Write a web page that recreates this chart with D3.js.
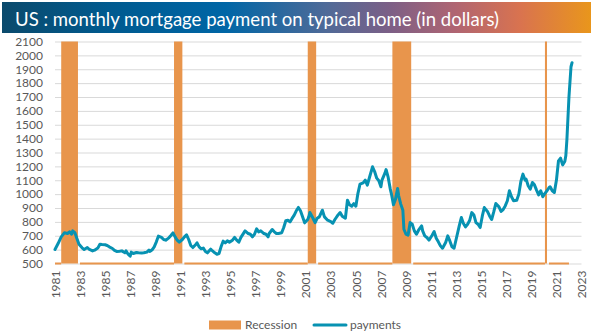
<!DOCTYPE html>
<html>
<head>
<meta charset="utf-8">
<script src="https://cdn.jsdelivr.net/npm/d3@7"></script>
<style>
  html, body { margin: 0; padding: 0; background: #fff; }
  svg { display: block; }
  text { font-family: Lato, "Open Sans", sans-serif; }
</style>
</head>
<body>
<svg id="chart" width="600" height="332"></svg>
<script>
// Monthly mortgage payment on a typical US home (USD), sampled months
const paymentMonths = [
  "1981-01","1981-04","1981-07","1981-10","1982-01","1982-03","1982-05","1982-06","1982-08","1982-10","1982-12",
  "1983-03","1983-05","1983-08","1983-10","1984-01","1984-03","1984-06","1984-08","1984-10",
  "1985-01","1985-03","1985-05","1985-08","1985-10","1985-12","1986-03","1986-05","1986-08","1986-09","1986-11",
  "1987-01","1987-02","1987-04","1987-07","1987-09","1987-12","1988-02","1988-05","1988-07","1988-08","1988-10","1988-12",
  "1989-02","1989-04","1989-07","1989-09","1989-11","1990-02","1990-04","1990-06","1990-08","1990-10","1990-12",
  "1991-03","1991-05","1991-07","1991-09","1991-11","1992-01","1992-04","1992-05","1992-07","1992-09","1992-11",
  "1993-01","1993-03","1993-06","1993-07","1993-10","1993-12","1994-02","1994-04","1994-06","1994-08","1994-10","1994-12",
  "1995-03","1995-05","1995-07","1995-09","1995-11","1996-01","1996-03","1996-06","1996-08","1996-10","1996-12",
  "1997-02","1997-04","1997-06","1997-09","1997-11","1998-01","1998-02","1998-05","1998-07","1998-09","1998-11",
  "1999-02","1999-04","1999-06","1999-08","1999-10","1999-12","2000-02","2000-04","2000-06","2000-08","2000-10","2000-12",
  "2001-03","2001-04","2001-05","2001-08","2001-10","2001-12","2002-02","2002-05","2002-07","2002-10",
  "2003-01","2003-03","2003-05","2003-08","2003-10","2003-12","2004-03","2004-05","2004-07","2004-09","2004-11",
  "2005-01","2005-03","2005-05","2005-08","2005-10","2005-12","2006-02","2006-05","2006-07","2006-09","2006-11",
  "2007-01","2007-02","2007-05","2007-06","2007-08","2007-10","2007-11","2008-01","2008-03","2008-05","2008-06","2008-08","2008-10","2008-11",
  "2009-01","2009-03","2009-05","2009-07","2009-09","2009-11","2010-01","2010-04","2010-05","2010-07","2010-09","2010-11",
  "2011-02","2011-04","2011-06","2011-08","2011-10","2011-12","2012-03","2012-05","2012-07","2012-09","2012-11",
  "2013-01","2013-04","2013-06","2013-08","2013-10","2013-12","2014-02","2014-04","2014-06","2014-08","2014-10","2014-12",
  "2015-02","2015-04","2015-07","2015-09","2015-11","2016-01","2016-03","2016-06","2016-08","2016-10","2016-12",
  "2017-02","2017-04","2017-06","2017-08","2017-11","2018-01","2018-03","2018-05","2018-07","2018-08","2018-10","2018-12",
  "2019-02","2019-04","2019-06","2019-08","2019-10","2019-12","2020-02","2020-04","2020-06","2020-07","2020-09","2020-11",
  "2021-01","2021-03","2021-05","2021-07","2021-09","2021-10","2021-11","2022-01","2022-03","2022-04"
];
const paymentValues = [
  601,644,692,721,716,728,711,735,723,680,639,
  613,601,615,601,591,596,611,639,637,
  635,630,620,608,594,587,589,591,577,591,567,
  553,582,572,579,577,575,577,582,596,587,599,620,
  656,697,688,673,668,685,702,721,692,668,654,
  673,692,707,673,630,615,639,649,620,606,611,
  587,577,603,596,577,567,572,620,661,649,663,654,
  668,688,668,654,688,712,735,716,711,692,711,
  750,728,735,716,711,692,716,745,728,716,716,
  721,759,808,812,800,825,849,880,904,880,837,793,
  817,837,867,826,795,826,836,884,836,812,
  802,790,817,850,867,841,826,956,923,913,932,
  913,1004,1072,1081,1101,1065,1120,1197,1163,1115,1096,
  1053,1101,1153,1177,1120,1036,1004,923,964,1040,988,928,884,747,
  711,704,795,783,735,711,740,771,735,699,687,668,
  704,730,682,656,627,610,651,699,663,620,610,
  675,771,831,788,764,783,812,867,850,795,783,759,
  841,903,875,843,817,872,932,908,875,889,915,
  952,1024,981,952,956,1000,1091,1144,1101,1108,1060,1036,
  1084,1067,1029,995,1024,981,1005,1024,1048,1053,1024,1012,
  1101,1240,1259,1211,1235,1276,1390,1702,1918,1947
];

// NBER recessions (first and last month)
const recessionStarts = ["1981-07","1990-07","2001-03","2007-12","2020-02"];
const recessionEnds   = ["1982-11","1991-03","2001-11","2009-06","2020-04"];
const recessionSeriesRange = ["1981-01","2022-01"];

const yTickValues = [500,600,700,800,900,1000,1100,1200,1300,1400,1500,1600,1700,1800,1900,2000,2100];
const xTickYears = [1981,1983,1985,1987,1989,1991,1993,1995,1997,1999,2001,2003,2005,2007,2009,2011,2013,2015,2017,2019,2021,2023];

const titleText = "US : monthly mortgage payment on typical home (in dollars)";
const legendLabels = ["Recession", "payments"];

const COLORS = { line: "#0792b2", recession: "#e8954c", grid: "#d9d9d9", text: "#595959" };

const parseMonth = d3.timeParse("%Y-%m");
const svg = d3.select("#chart");

// ---- title banner ----
const defs = svg.append("defs");
const grad = defs.append("linearGradient").attr("id", "titleGrad")
  .attr("x1", "0%").attr("x2", "100%").attr("y1", "0%").attr("y2", "0%");
[[0, "#0b4a6c"], [0.18, "#005a8f"], [0.38, "#0066a6"], [0.55, "#4f6a98"],
 [0.66, "#7d5f86"], [0.77, "#b06572"], [0.88, "#d9734f"], [1, "#e9961c"]]
  .forEach(([o, c]) => grad.append("stop").attr("offset", o).attr("stop-color", c));

svg.append("rect").attr("x", 2).attr("y", 2).attr("width", 589).attr("height", 31)
  .attr("fill", "url(#titleGrad)");
svg.append("text").attr("x", 15).attr("y", 26)
  .attr("fill", "#fff").attr("font-size", 20)
  .attr("textLength", 484).attr("lengthAdjust", "spacingAndGlyphs")
  .text(titleText);

// ---- scales ----
const plot = { left: 55, right: 581.5, top: 41.5, bottom: 263.5 };
const x = d3.scaleTime()
  .domain([new Date(1981, 0, 1), new Date(2023, 0, 1)])
  .range([plot.left, plot.right]);
const y = d3.scaleLinear().domain([500, 2100]).range([plot.bottom, plot.top]);

// ---- gridlines & y labels ----
const yAxis = d3.axisLeft(y).tickValues(yTickValues).tickSize(-(plot.right - plot.left)).tickPadding(12).tickFormat(d3.format("d"));
const gy = svg.append("g").attr("transform", `translate(${plot.left},0)`).call(yAxis);
gy.select(".domain").remove();
gy.selectAll(".tick line").attr("stroke", COLORS.grid).attr("stroke-width", 1);
gy.selectAll(".tick text").attr("fill", COLORS.text).attr("font-size", 12)
  .attr("font-family", "Lato, 'Open Sans', sans-serif");

// ---- recession series ----
const recessions = recessionStarts.map((s, i) => ({ start: parseMonth(s), end: parseMonth(recessionEnds[i]) }));
const gRec = svg.append("g");
gRec.selectAll("rect").data(recessions).join("rect")
  .attr("x", d => x(d.start))
  .attr("width", d => x(d.end) - x(d.start))
  .attr("y", y(2100))
  .attr("height", y(500) - y(2100))
  .attr("fill", COLORS.recession);

// zero-level segments of the recession series between the bars
const seriesStart = parseMonth(recessionSeriesRange[0]);
const seriesEnd = parseMonth(recessionSeriesRange[1]);
const flatSegments = [];
let prev = seriesStart, prevIsEnd = false;
recessions.forEach(r => {
  flatSegments.push([x(prev) + (prevIsEnd ? 2 : 0), x(r.start)]);
  prev = r.end; prevIsEnd = true;
});
flatSegments.push([x(prev) + 2, x(seriesEnd)]);
gRec.selectAll("line").data(flatSegments).join("line")
  .attr("x1", d => d[0]).attr("x2", d => d[1])
  .attr("y1", y(500)).attr("y2", y(500))
  .attr("stroke", COLORS.recession).attr("stroke-width", 2);

// ---- x labels ----
const xAxis = d3.axisBottom(x)
  .tickValues(xTickYears.map(yr => new Date(yr, 0, 1)))
  .tickSize(0).tickFormat(d3.timeFormat("%Y"));
const gx = svg.append("g").attr("transform", `translate(0,${plot.bottom})`).call(xAxis);
gx.select(".domain").remove();
gx.selectAll(".tick text")
  .attr("fill", COLORS.text).attr("font-size", 12)
  .attr("font-family", "Lato, 'Open Sans', sans-serif")
  .attr("transform", "rotate(-90)")
  .attr("text-anchor", "end")
  .attr("x", -7).attr("y", 0).attr("dy", "0.35em");

// ---- payments line ----
const payments = paymentMonths.map((m, i) => ({ date: parseMonth(m), value: paymentValues[i] }));
svg.append("path").datum(payments)
  .attr("fill", "none")
  .attr("stroke", COLORS.line)
  .attr("stroke-width", 3)
  .attr("stroke-linejoin", "round")
  .attr("stroke-linecap", "round")
  .attr("d", d3.line().x(d => x(d.date)).y(d => y(d.value)));

// ---- legend ----
const lg = svg.append("g");
lg.append("rect").attr("x", 209).attr("y", 320.5).attr("width", 32).attr("height", 9)
  .attr("fill", COLORS.recession);
lg.append("text").attr("x", 245).attr("y", 329).attr("fill", COLORS.text)
  .attr("font-size", 12).text(legendLabels[0]);
lg.append("line").attr("x1", 314).attr("x2", 346).attr("y1", 325).attr("y2", 325)
  .attr("stroke", COLORS.line).attr("stroke-width", 3).attr("stroke-linecap", "round");
lg.append("text").attr("x", 350).attr("y", 329).attr("fill", COLORS.text)
  .attr("font-size", 12).text(legendLabels[1]);
</script>
</body>
</html>
